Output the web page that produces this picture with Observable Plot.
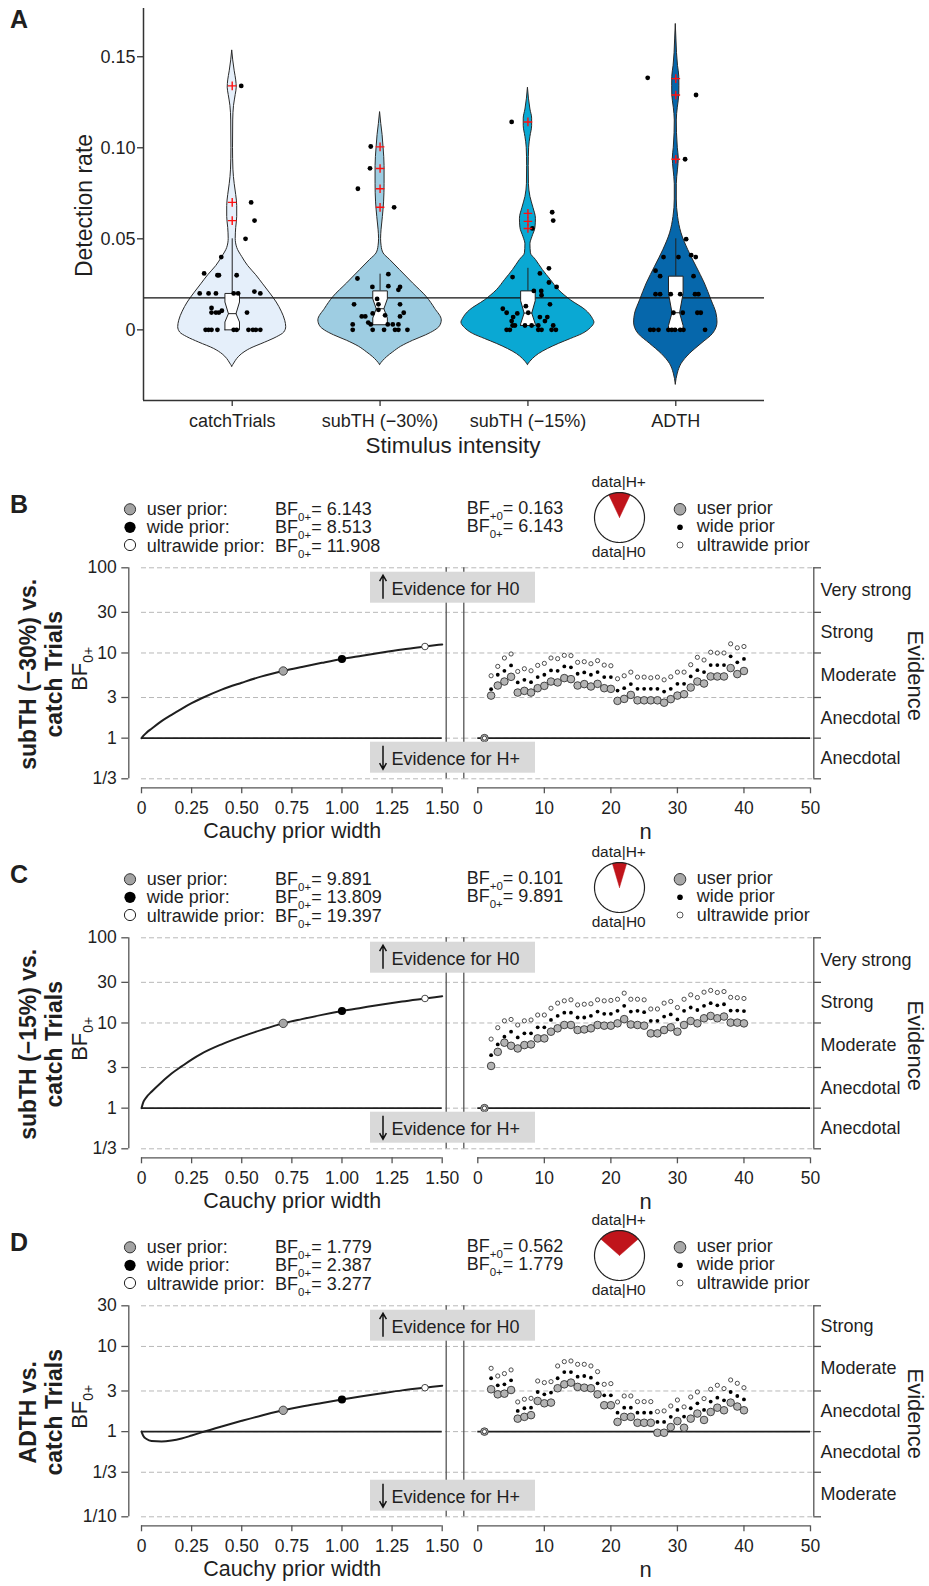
<!DOCTYPE html>
<html><head><meta charset="utf-8">
<script src="https://cdn.jsdelivr.net/npm/d3@7"></script>
<script src="https://cdn.jsdelivr.net/npm/@observablehq/plot@0.6"></script>
<style>
body{margin:0;background:#fff}
#root{position:relative;width:929px;height:1586px;overflow:hidden;background:#fff;font-family:'Liberation Sans',Arial,Helvetica,sans-serif}
</style>
</head><body><div id="root"></div>
<script>
// ================= DATA =================
// ---- Panel A
const categories = ["catchTrials", "subTH (−30%)", "subTH (−15%)", "ADTH"];
const violinColors = ["#e5effa", "#9ecde2", "#0aa8d3", "#0667ab"];
const thresholdRate = 0.0176;
const yTicksA = [0, 0.05, 0.10, 0.15];
const yTickLabelsA = ["0", "0.05", "0.10", "0.15"];
// violin outlines: [detection rate, half width (px at full size)]
const violinCatch = [[0.1535,0],[0.148,1],[0.142,2.5],[0.137,4],[0.133,4.5],[0.129,3.5],[0.123,1.8],[0.115,1],[0.1,0.8],[0.088,1.2],[0.08,2.5],[0.074,4],[0.068,5],[0.062,5],[0.056,4],[0.05,3.5],[0.045,5],[0.04,10],[0.035,16],[0.03,24],[0.025,31],[0.02,38],[0.015,44.5],[0.01,49.5],[0.005,53],[0.0015,54],[-0.0015,52],[-0.004,45],[-0.007,33],[-0.0105,18],[-0.0135,9.5],[-0.016,5],[-0.0185,2],[-0.0202,0]];
const violinSub30 = [[0.1196,0],[0.113,1.2],[0.107,2.5],[0.1,3.5],[0.09,4.5],[0.08,4.5],[0.07,4],[0.062,2.8],[0.055,1.5],[0.05,1],[0.046,1.5],[0.042,3.5],[0.0384,10],[0.0328,20],[0.0255,33],[0.018,46.7],[0.0116,55],[0.0052,61.7],[0.002,60],[-0.0004,55],[-0.003,46],[-0.006,33],[-0.0093,21],[-0.0124,13],[-0.015,7],[-0.017,3.3],[-0.0192,0]];
const violinSub15 = [[0.133,0],[0.127,1],[0.121,2.5],[0.116,4.2],[0.112,4.2],[0.106,2.5],[0.1,1.2],[0.09,0.8],[0.08,1],[0.073,2.5],[0.067,5.5],[0.061,8],[0.056,7.5],[0.051,4.5],[0.047,2.5],[0.042,3],[0.0384,8],[0.0328,15],[0.0273,23],[0.0218,31],[0.0162,43],[0.0107,58],[0.006,65],[0.004,66.5],[0.001,63],[-0.0022,55],[-0.005,43],[-0.0077,31],[-0.0105,20],[-0.0133,11],[-0.016,5],[-0.0192,0]];
const violinADTH = [[0.168,0],[0.16,0.6],[0.152,1.2],[0.145,2.2],[0.139,3.5],[0.134,3.6],[0.129,3.5],[0.122,2],[0.115,1],[0.108,1.2],[0.1,2],[0.094,3],[0.088,2.2],[0.08,1],[0.0716,1],[0.062,2.3],[0.053,5.7],[0.044,12.3],[0.0347,20.7],[0.0255,29],[0.0162,35.7],[0.0089,40.7],[0.004,41.7],[-0.0022,37.3],[-0.0077,25.7],[-0.0133,14],[-0.0188,5.7],[-0.024,2],[-0.03,0]];
// participants: [jitter, detection rate]
const dotsCatch = [[0.061,0.134],[0.128,0.070],[0.151,0.060],[0.09,0.050],[-0.074,0.040],[-0.19,0.031],[-0.10,0.030],[-0.09,0.030],[0.03,0.030],[-0.22,0.020],[-0.16,0.020],[-0.11,0.020],[0.01,0.020],[0.04,0.020],[0.15,0.021],[0.19,0.020],[-0.14,0.012],[-0.14,0.0095],[-0.11,0.0095],[-0.09,0.0095],[-0.07,0.0105],[0.10,0.0095],[-0.18,0],[-0.16,0],[-0.14,0],[-0.10,0],[0.01,0],[0.03,0],[0.11,0],[0.14,0],[0.16,0],[0.19,0]];
const dotsSub30 = [[-0.063,0.1007],[-0.068,0.0887],[-0.15,0.0775],[0.095,0.0673],[-0.153,0.0282],[0.056,0.0306],[-0.052,0.0236],[0.056,0.024],[0.124,0.022],[0.135,0.0236],[-0.176,0.014],[-0.02,0.017],[-0.011,0.014],[0.135,0.014],[0.16,0.0094],[-0.124,0.0074],[-0.10,0.0074],[-0.05,0.009],[-0.011,0.011],[0.034,0.008],[0.135,0.0074],[-0.185,0.003],[-0.08,0.004],[-0.063,0.003],[0.052,0.003],[0.086,0.003],[0.124,0.003],[-0.185,0],[-0.05,0],[0.027,0],[0.101,0],[0.124,0],[0.185,0]];
const dotsSub15 = [[-0.11,0.1142],[0.164,0.0646],[0.171,0.060],[0.03,0.0557],[0.142,0.0338],[-0.104,0.029],[0.081,0.031],[0.142,0.026],[0.194,0.0236],[0.04,0.0214],[0.09,0.0214],[0.092,0.019],[0.149,0.014],[-0.014,0.013],[-0.17,0.0116],[-0.144,0.0094],[-0.072,0.009],[0.002,0.0094],[-0.10,0.007],[0.081,0.007],[0.131,0.007],[-0.11,0.0048],[0.115,0.0048],[-0.104,0.0024],[-0.088,0.0024],[-0.02,0.0024],[0.025,0.0024],[0.07,0.0024],[0.171,0.0024],[-0.144,0],[-0.122,0],[0.07,0],[0.092,0],[0.16,0],[0.189,0]];
const dotsADTH = [[-0.19,0.1384],[0.137,0.129],[0.063,0.0937],[0.07,0.0498],[-0.083,0.040],[0.018,0.040],[0.104,0.041],[0.135,0.040],[-0.137,0.0325],[-0.106,0.0295],[0.12,0.0295],[-0.137,0.0196],[-0.106,0.0196],[-0.034,0.0196],[0.03,0.0196],[0.13,0.0196],[0.153,0.0196],[-0.016,0.0094],[0.047,0.0094],[0.146,0.0094],[0.169,0.0094],[-0.173,0],[-0.15,0],[-0.117,0],[-0.05,0],[-0.027,0],[-0.005,0],[0.03,0],[0.052,0],[0.198,0]];
// outliers (red crosses)
const outCatch = [0.134, 0.070, 0.060];
const outSub30 = [0.1005, 0.0886, 0.0775, 0.0673];
const outSub15 = [0.1142, 0.064, 0.0596, 0.0557];
const outADTH = [0.138, 0.129, 0.0937];
// notched boxes: [q1, notch low, median, notch high, q3, upper whisker]
const boxCatch = [0, 0.0043, 0.0089, 0.0153, 0.02, 0.05];
const boxSub30 = [0.0028, 0.0065, 0.0116, 0.017, 0.0214, 0.0306];
const boxSub15 = [0.0024, 0.0033, 0.0092, 0.016, 0.0214, 0.0338];
const boxADTH  = [0, 0.0024, 0.0094, 0.02, 0.0295, 0.05];

// ---- Panels B-D
const comparisons = [["subTH (−30%) vs.", "catch Trials"], ["subTH (−15%) vs.", "catch Trials"], ["ADTH vs.", "catch Trials"]];
const panelLetters = ["B", "C", "D"];
const priorWidths = [0, 0.01, 0.025, 0.05, 0.1, 0.15, 0.2, 0.25, 0.3, 0.4, 0.5, 0.6, 0.707, 0.8, 0.9, 1.0, 1.1, 1.2, 1.3, 1.414, 1.5];
const robustB = [1, 1.07, 1.16, 1.29, 1.585, 1.88, 2.21, 2.57, 2.94, 3.72, 4.47, 5.31, 6.143, 6.85, 7.66, 8.513, 9.29, 10.14, 11.0, 11.908, 12.6];
const robustC = [1, 1.19, 1.35, 1.56, 2.02, 2.55, 3.09, 3.72, 4.37, 5.62, 6.92, 8.3, 9.891, 11.1, 12.45, 13.809, 15.1, 16.5, 17.9, 19.397, 20.6];
const robustD = [1, 0.88, 0.82, 0.775, 0.765, 0.785, 0.83, 0.9, 0.98, 1.15, 1.34, 1.55, 1.779, 1.97, 2.17, 2.387, 2.6, 2.82, 3.05, 3.277, 3.46];
const priorNames = ["user prior", "wide prior", "ultrawide prior"];
const priorWidthMarks = [0.707, 1, 1.414];
const bf0pB = [6.143, 8.513, 11.908];
const bf0pC = [9.891, 13.809, 19.397];
const bf0pD = [1.779, 2.387, 3.277];
const bfp0 = [0.163, 0.101, 0.562];
const pieShare = [0.14, 0.092, 0.27];
const seqB_user  = [1,3.16,4.15,4.62,5.25,3.43,3.59,3.43,3.86,4.11,4.62,4.51,5.07,4.93,4.15,4.31,4.04,4.34,3.86,3.79,2.74,2.89,3.22,2.78,2.78,2.78,2.78,2.61,2.87,3.16,3.28,3.93,4.62,4.38,5.3,5.3,5.3,6.65,5.65,6.143];
const seqB_wide  = [1,3.76,5.55,6.18,7.15,4.51,4.84,4.54,5.21,5.55,6.24,6.18,6.96,6.78,5.7,5.91,5.55,5.96,5.21,5.21,3.62,3.86,4.31,3.79,3.79,3.79,3.79,3.52,3.79,4.34,4.34,5.3,6.29,5.96,7.21,7.21,7.21,9.14,7.77,8.513];
const seqB_ultra = [1,5.4,6.96,8.73,9.73,6.07,6.53,6.18,7.15,7.55,8.73,8.57,9.38,9.3,7.77,7.9,7.48,8.12,7.21,7.08,4.98,5.4,5.96,5.21,5.21,5.11,5.21,4.84,5.25,5.96,5.96,7.28,8.89,8.27,10.2,10,10,12.8,11.5,11.908];
const seqC_user  = [1,3.13,4.58,5.87,5.4,5.02,5.5,5.6,6.59,6.59,7.9,8.65,9.47,9.47,8.27,8.4,8.65,9.47,9.3,9.3,9.9,11.1,9.6,9.47,9.3,7.55,7.55,8.27,8.9,7.9,9.47,10.56,9.9,11.35,12.1,11.35,11.9,10.1,10.1,9.891];
const seqC_wide  = [1,4.19,5.6,6.9,7.9,6.77,7.55,7.55,8.9,8.9,10.85,12.1,13.2,13.2,11.6,11.6,12.1,13.6,12.8,12.8,13.9,15.9,13.6,13.9,13.4,10.6,10.6,11.9,12.6,11.0,13.9,15.2,14.2,15.9,17.1,16.1,16.6,14,14,13.809];
const seqC_ultra = [1,6.47,8.8,10.6,11.0,9.47,10.6,10.85,12.4,12.4,14.9,17.1,18.2,18.7,16.3,16.6,16.8,18.7,18.2,18.4,19.0,22.4,19,19,18.7,14.6,14.6,17.1,17.9,15.2,19,21.4,19.9,23,24.1,22.8,23.4,20,19.8,19.397];
const seqD_user  = [1,3.14,2.74,2.79,3.08,1.42,1.49,1.56,2.29,2.15,2.19,3.23,3.59,3.76,3.35,3.28,3.23,2.74,2.04,2.04,1.3,1.49,1.49,1.27,1.27,1.27,0.97,0.97,1.13,1.33,1.11,1.42,1.63,1.37,1.7,1.91,1.78,2.19,1.97,1.779];
const seqD_wide  = [1,4.23,3.5,3.59,4.0,1.75,1.88,1.91,2.92,2.74,2.87,4.23,5.0,5.0,4.42,4.5,4.3,3.69,2.67,2.67,1.67,1.91,1.91,1.67,1.67,1.67,1.3,1.3,1.49,1.8,1.5,1.88,2.15,1.8,2.25,2.5,2.33,2.92,2.62,2.387];
const seqD_ultra = [1,5.54,4.5,4.8,5.3,2.23,2.4,2.46,3.93,3.76,3.86,5.9,6.63,6.75,6.17,6.17,5.9,5.06,3.59,3.66,2.23,2.62,2.62,2.25,2.25,2.25,1.72,1.75,2.0,2.35,1.95,2.55,2.92,2.44,3.14,3.5,3.2,4.04,3.69,3.277];
const yTicksBC = [100, 30, 10, 3, 1, 1/3];
const yTickLabelsBC = ["100", "30", "10", "3", "1", "1/3"];
const yTicksD = [30, 10, 3, 1, 1/3, 1/10];
const yTickLabelsD = ["30", "10", "3", "1", "1/3", "1/10"];
const bandLabelsBC = ["Very strong", "Strong", "Moderate", "Anecdotal", "Anecdotal"];
const bandLabelsD = ["Strong", "Moderate", "Anecdotal", "Anecdotal", "Moderate"];
const priorTicks = [0, 0.25, 0.5, 0.75, 1, 1.25, 1.5];
const priorTickLabels = ["0", "0.25", "0.50", "0.75", "1.00", "1.25", "1.50"];
const nTicks = [0, 10, 20, 30, 40, 50];

// ================= RENDER =================
const FONT = "'Liberation Sans', Arial, Helvetica, sans-serif";
const INK = "#1f1f1f", AX = "#555", GRID = "#b8b8b8", RED = "#c0141b";
const plotStyle = {background: "transparent", fontFamily: FONT, overflow: "visible", color: INK};
const root = document.getElementById("root");
function place(el, left, top) {
  el.style.position = "absolute"; el.style.left = left + "px"; el.style.top = top + "px";
  root.appendChild(el);
}

// ---- Panel A
(function () {
  const xDom = [0.4, 4.6], yDom = [-0.0388, 0.1765];
  const PX = 147.86; // px per category unit
  const W = 929, H = 470, ML = 137, MR = 165, MT = 8, MB = 64;
  const FW = W - ML - MR, FH = H - MT - MB;
  const violins = [violinCatch, violinSub30, violinSub15, violinADTH];
  const dots = [dotsCatch, dotsSub30, dotsSub15, dotsADTH];
  const outs = [outCatch, outSub30, outSub15, outADTH];
  const boxes = [boxCatch, boxSub30, boxSub15, boxADTH];
  const bw = 7.3 / PX, nw = 3.8 / PX;
  const marks = [];
  violins.forEach((prof, i) => {
    const c = i + 1;
    const rows = prof.slice().sort((a, b) => a[0] - b[0]);
    marks.push(Plot.areaX(rows, {y: d => d[0], x1: d => c - d[1] / PX, x2: d => c + d[1] / PX,
      fill: violinColors[i], stroke: "#2a2a2a", strokeWidth: 1, curve: "monotone-y"}));
  });
  marks.push(Plot.ruleY([thresholdRate], {x1: xDom[0], x2: xDom[1], stroke: "#111", strokeWidth: 1.3}));
  boxes.forEach((s, i) => {
    const c = i + 1;
    marks.push(Plot.ruleX([c], {y1: s[4], y2: s[5], stroke: "#222", strokeWidth: 1}));
    const poly = [[c-bw,s[0]],[c-bw,s[1]],[c-nw,s[2]],[c-bw,s[3]],[c-bw,s[4]],[c+bw,s[4]],[c+bw,s[3]],[c+nw,s[2]],[c+bw,s[1]],[c+bw,s[0]],[c-bw,s[0]]];
    marks.push(Plot.line(poly, {x: d => d[0], y: d => d[1], fill: "#fff", stroke: "#222", strokeWidth: 1, curve: "linear"}));
    marks.push(Plot.line([[c-nw,s[2]],[c+nw,s[2]]], {x: d => d[0], y: d => d[1], stroke: "#222", strokeWidth: 1}));
  });
  dots.forEach((arr, i) => {
    marks.push(Plot.dot(arr, {x: d => i + 1 + d[0], y: d => d[1], r: 2.4, fill: "#000", stroke: "none"}));
  });
  outs.forEach((arr, i) => {
    marks.push(Plot.dot(arr, {x: () => i + 1, y: d => d, symbol: "plus", r: 2.9, stroke: "#ff1010", strokeWidth: 1.4}));
  });
  // axes
  marks.push(
    Plot.ruleX([xDom[0]], {y1: yDom[0], y2: yDom[1], stroke: "#333", strokeWidth: 1.5}),
    Plot.ruleY([yDom[0]], {x1: xDom[0], x2: xDom[1], stroke: "#333", strokeWidth: 1.5}),
    Plot.tickY(yTicksA, {y: d => d, insetRight: FW - 6, stroke: "#333", strokeWidth: 1.3}),
    Plot.text(yTicksA, {y: d => d, text: (d, i) => yTickLabelsA[i], frameAnchor: "left", textAnchor: "end", lineAnchor: "middle", dx: -2, fontSize: 18, fill: INK}),
    Plot.tickX([1, 2, 3, 4], {x: d => d, insetTop: FH - 6, stroke: "#333", strokeWidth: 1.3}),
    Plot.text([1, 2, 3, 4], {x: d => d, text: (d, i) => categories[i], frameAnchor: "bottom", textAnchor: "middle", lineAnchor: "middle", dy: 14.7, fontSize: 18, fill: INK}),
    Plot.text(["Stimulus intensity"], {text: d => d, frameAnchor: "bottom", textAnchor: "middle", lineAnchor: "middle", dx: 2, dy: 39, fontSize: 22.5, fill: INK}),
    Plot.text(["Detection rate"], {text: d => d, frameAnchor: "left", textAnchor: "middle", lineAnchor: "middle", rotate: -90, dx: -53, dy: -2, fontSize: 23, fill: INK})
  );
  const p = Plot.plot({width: W, height: H, marginLeft: ML, marginRight: MR, marginTop: MT, marginBottom: MB,
    x: {domain: xDom, insetLeft: 6, axis: null}, y: {domain: yDom, insetBottom: 6, axis: null},
    style: plotStyle, marks});
  place(p, 0, 0);
})();

// ---- Panels B, C, D
const panelCfg = [
  {off: 0,   ydomain: [1/3, 100], yticks: yTicksBC, ylabels: yTickLabelsBC, bands: bandLabelsBC, robust: robustB, bf: bf0pB, seq: [seqB_user, seqB_wide, seqB_ultra]},
  {off: 370, ydomain: [1/3, 100], yticks: yTicksBC, ylabels: yTickLabelsBC, bands: bandLabelsBC, robust: robustC, bf: bf0pC, seq: [seqC_user, seqC_wide, seqC_ultra]},
  {off: 738, ydomain: [1/10, 30], yticks: yTicksD, ylabels: yTickLabelsD, bands: bandLabelsD, robust: robustD, bf: bf0pD, seq: [seqD_user, seqD_wide, seqD_ultra]}
];
const MT = 27.3, FH = 226, MB = 62, H = MT + FH + MB;
const gridStyle = {stroke: GRID, strokeDasharray: "5,3", strokeWidth: 1};
const axStyle = {stroke: AX, strokeWidth: 1.3};

panelCfg.forEach((cfg, k) => {
  const plotTop = 567.3 + cfg.off;
  const [lo, hi] = cfg.ydomain;
  const yOpt = {type: "log", domain: cfg.ydomain, insetBottom: 15, axis: null};
  const common = {width: 929, height: H, marginTop: MT, marginBottom: MB, style: plotStyle};
  // left: robustness
  const LML = 121.3, LMR = 483, LFW = 929 - LML - LMR;
  const curve = priorWidths.map((w, i) => ({w, bf: cfg.robust[i]}));
  const pm = priorWidthMarks.map((w, i) => ({w, bf: cfg.bf[i]}));
  const left = Plot.plot({...common, marginLeft: LML, marginRight: LMR,
    x: {domain: [0, 1.5], insetLeft: 19.7, insetRight: 4.3, axis: null}, y: yOpt,
    marks: [
      Plot.ruleY(cfg.yticks, {y: d => d, x1: 0, x2: 1.5, insetRight: -22, ...gridStyle}),
      Plot.ruleX([0], {x: d => d, y1: lo, y2: hi, dx: -12.7, ...axStyle}),
      Plot.tickY(cfg.yticks, {y: d => d, insetRight: LFW - 7, ...axStyle}),
      Plot.text(cfg.yticks, {y: d => d, text: (d, i) => cfg.ylabels[i], frameAnchor: "left", textAnchor: "end", lineAnchor: "middle", dx: -5, fontSize: 17.5, fill: INK}),
      Plot.ruleX([1.5], {x: d => d, y1: lo, y2: hi, dx: 4, ...axStyle}),
      Plot.ruleY([lo], {y: d => d, x1: 0, x2: 1.5, dy: 9, ...axStyle}),
      Plot.tickX(priorTicks, {x: d => d, insetTop: FH - 6, ...axStyle}),
      Plot.text(priorTicks, {x: d => d, text: (d, i) => priorTickLabels[i], frameAnchor: "bottom", textAnchor: "middle", lineAnchor: "middle", dy: 14.7, fontSize: 17.5, fill: INK}),
      Plot.text(["Cauchy prior width"], {text: d => d, frameAnchor: "bottom", textAnchor: "middle", lineAnchor: "middle", dx: 8, dy: 37, fontSize: 21.5, fill: INK}),
      Plot.ruleY([1], {y: d => d, x1: 0, x2: 1.5, stroke: INK, strokeWidth: 1.6}),
      Plot.line(curve, {x: "w", y: "bf", stroke: INK, strokeWidth: 2, curve: "monotone-x"}),
      Plot.dot([pm[0]], {x: "w", y: "bf", r: 4.2, fill: "#a6a6a6", stroke: "#333", strokeWidth: 0.9}),
      Plot.dot([pm[1]], {x: "w", y: "bf", r: 3.3, fill: "#000", stroke: "#000"}),
      Plot.dot([pm[2]], {x: "w", y: "bf", r: 3.3, fill: "#fff", stroke: "#333", strokeWidth: 0.9})
    ]});
  place(left, 0, plotTop - MT);
  // right: sequential analysis
  const RML = 463.3, RMR = 108, RFW = 929 - RML - RMR;
  const bandRows = cfg.bands.map((label, i) => ({label, mid: Math.sqrt(cfg.yticks[i] * cfg.yticks[i + 1])}));
  const rows = arr => arr.map((bf, i) => ({n: i + 1, bf}));
  const right = Plot.plot({...common, marginLeft: RML, marginRight: RMR,
    x: {domain: [0, 50], insetLeft: 14, insetRight: 11, axis: null}, y: yOpt,
    marks: [
      Plot.ruleY(cfg.yticks, {y: d => d, x1: 0, x2: 50, insetLeft: -14, insetRight: -3, ...gridStyle}),
      Plot.ruleX([0], {x: d => d, y1: lo, y2: hi, dx: -14, ...axStyle}),
      Plot.ruleX([50], {x: d => d, y1: lo, y2: hi, dx: 3.3, ...axStyle}),
      Plot.tickY(cfg.yticks, {y: d => d, insetLeft: RFW - 7.7, ...axStyle}),
      Plot.text(bandRows, {y: "mid", text: "label", frameAnchor: "right", textAnchor: "start", lineAnchor: "middle", dx: -1, fontSize: 18, fill: INK}),
      Plot.text(["Evidence"], {text: d => d, frameAnchor: "right", textAnchor: "middle", lineAnchor: "middle", rotate: 90, dx: 94, dy: -5, fontSize: 22, fill: INK}),
      Plot.ruleY([lo], {y: d => d, x1: 0, x2: 50, dy: 9, ...axStyle}),
      Plot.tickX(nTicks, {x: d => d, insetTop: FH - 6, ...axStyle}),
      Plot.text(nTicks, {x: d => d, text: d => String(d), frameAnchor: "bottom", textAnchor: "middle", lineAnchor: "middle", dy: 14.7, fontSize: 17.5, fill: INK}),
      Plot.text(["n"], {text: d => d, frameAnchor: "bottom", textAnchor: "middle", lineAnchor: "middle", dx: 3, dy: 38.4, fontSize: 22, fill: INK}),
      Plot.ruleY([1], {y: d => d, x1: 0, x2: 50, stroke: INK, strokeWidth: 1.6}),
      Plot.dot(rows(cfg.seq[0]), {x: "n", y: "bf", r: 3.8, fill: "#b3b3b3", stroke: "#333", strokeWidth: 0.9}),
      Plot.dot(rows(cfg.seq[1]), {x: "n", y: "bf", r: 1.9, fill: "#000", stroke: "none"}),
      Plot.dot(rows(cfg.seq[2]), {x: "n", y: "bf", r: 2.1, fill: "#fff", stroke: "#3a3a3a", strokeWidth: 0.9})
    ]});
  place(right, 0, plotTop - MT);
});

// ---- annotation layer (titles, legends, boxes)
(function () {
  const s = [];
  s.push(`<text x="10" y="27.5" font-size="25" font-weight="bold">A</text>`);
  panelCfg.forEach((cfg, k) => {
    const o = cfg.off, top = 567.3 + o, bot = top + 211, mid = top + 105.5;
    const f = v => v.toFixed(3);
    s.push(`<text x="10" y="${513 + o}" font-size="25" font-weight="bold">${panelLetters[k]}</text>`);
    // left legend
    const ly = [509.3, 527.3, 545], lb = [515, 533.3, 551.7];
    s.push(`<circle cx="130" cy="${ly[0] + o}" r="5.6" fill="#a3a3a3" stroke="#333" stroke-width="1"/>`);
    s.push(`<circle cx="130" cy="${ly[1] + o}" r="5.6" fill="#000"/>`);
    s.push(`<circle cx="130" cy="${ly[2] + o}" r="5.6" fill="#fff" stroke="#222" stroke-width="1"/>`);
    priorNames.forEach((nm, i) => {
      s.push(`<text x="146.7" y="${lb[i] + o}" font-size="18">${nm}:</text>`);
      s.push(`<text x="275" y="${lb[i] + o}" font-size="18">BF<tspan font-size="11.5" dy="6">0+</tspan><tspan dy="-6">= ${f(cfg.bf[i])}</tspan></text>`);
    });
    // right BF
    s.push(`<text x="466.7" y="${514 + o}" font-size="18">BF<tspan font-size="11.5" dy="6">+0</tspan><tspan dy="-6">= ${f(bfp0[k])}</tspan></text>`);
    s.push(`<text x="466.7" y="${532.3 + o}" font-size="18">BF<tspan font-size="11.5" dy="6">0+</tspan><tspan dy="-6">= ${f(cfg.bf[0])}</tspan></text>`);
    // pie labels
    s.push(`<text x="618.7" y="${486.7 + o}" font-size="15.5" text-anchor="middle">data|H+</text>`);
    s.push(`<text x="618.7" y="${556.7 + o}" font-size="15.5" text-anchor="middle">data|H0</text>`);
    // right legend
    s.push(`<circle cx="680" cy="${509.3 + o}" r="5.8" fill="#a8a8a8" stroke="#333" stroke-width="1"/>`);
    s.push(`<circle cx="680" cy="${527.3 + o}" r="2.8" fill="#000"/>`);
    s.push(`<circle cx="680" cy="${545 + o}" r="3" fill="#fff" stroke="#444" stroke-width="0.9"/>`);
    const rb = [514, 532.3, 550.7];
    priorNames.forEach((nm, i) => s.push(`<text x="696.7" y="${rb[i] + o}" font-size="18">${nm}</text>`));
    // row labels
    s.push(`<text transform="translate(35.5,${mid + 1.5}) rotate(-90)" text-anchor="middle" font-size="23" font-weight="bold">${comparisons[k][0]}</text>`);
    s.push(`<text transform="translate(61.5,${mid + 1.5}) rotate(-90)" text-anchor="middle" font-size="23" font-weight="bold">${comparisons[k][1]}</text>`);
    s.push(`<text transform="translate(87,${mid - 4}) rotate(-90)" text-anchor="middle" font-size="22">BF<tspan font-size="14" dy="6">0+</tspan></text>`);
    // evidence boxes
    const ub = top + 4.4, db = bot - 36.6;
    s.push(`<rect x="370" y="${ub}" width="165" height="31" fill="#d9d9d9"/>`);
    s.push(`<path d="M383,${ub + 27} V${ub + 4} M379.6,${ub + 9.5} L383,${ub + 3.5} L386.4,${ub + 9.5}" stroke="#111" stroke-width="1.5" fill="none"/>`);
    s.push(`<text x="391.5" y="${ub + 23.3}" font-size="18">Evidence for H0</text>`);
    s.push(`<rect x="370" y="${db}" width="165" height="31" fill="#d9d9d9"/>`);
    s.push(`<path d="M383,${db + 4} V${db + 27} M379.6,${db + 21.5} L383,${db + 27.5} L386.4,${db + 21.5}" stroke="#111" stroke-width="1.5" fill="none"/>`);
    s.push(`<text x="391.5" y="${db + 23.3}" font-size="18">Evidence for H+</text>`);
  });
  const svg = document.createElementNS("http://www.w3.org/2000/svg", "svg");
  svg.setAttribute("width", 929); svg.setAttribute("height", 1586);
  svg.setAttribute("font-family", FONT); svg.setAttribute("fill", INK);
  svg.innerHTML = s.join("");
  place(svg, 0, 0);
})();

// ---- pies (data|H+ vs data|H0)
panelCfg.forEach((cfg, k) => {
  const circle = d3.range(0, 361, 3).map(a => ({x: Math.cos(a * Math.PI / 180), y: Math.sin(a * Math.PI / 180)}));
  const half = pieShare[k] * Math.PI;
  const wedge = [{x: 0, y: 0}, ...d3.range(0, 41).map(j => { const t = -half + 2 * half * j / 40; return {x: Math.sin(t), y: Math.cos(t)}; }), {x: 0, y: 0}];
  const pie = Plot.plot({width: 60, height: 60, margin: 5, style: plotStyle,
    x: {domain: [-1, 1], axis: null}, y: {domain: [-1, 1], axis: null},
    marks: [
      Plot.line(circle, {x: "x", y: "y", fill: "#fff", stroke: "none", curve: "linear"}),
      Plot.line(wedge, {x: "x", y: "y", fill: RED, stroke: RED, strokeWidth: 0.5, curve: "linear"}),
      Plot.line(circle, {x: "x", y: "y", stroke: "#222", strokeWidth: 1.2, curve: "linear"})
    ]});
  place(pie, 588.7, 487.3 + cfg.off);
});
</script></body></html>
